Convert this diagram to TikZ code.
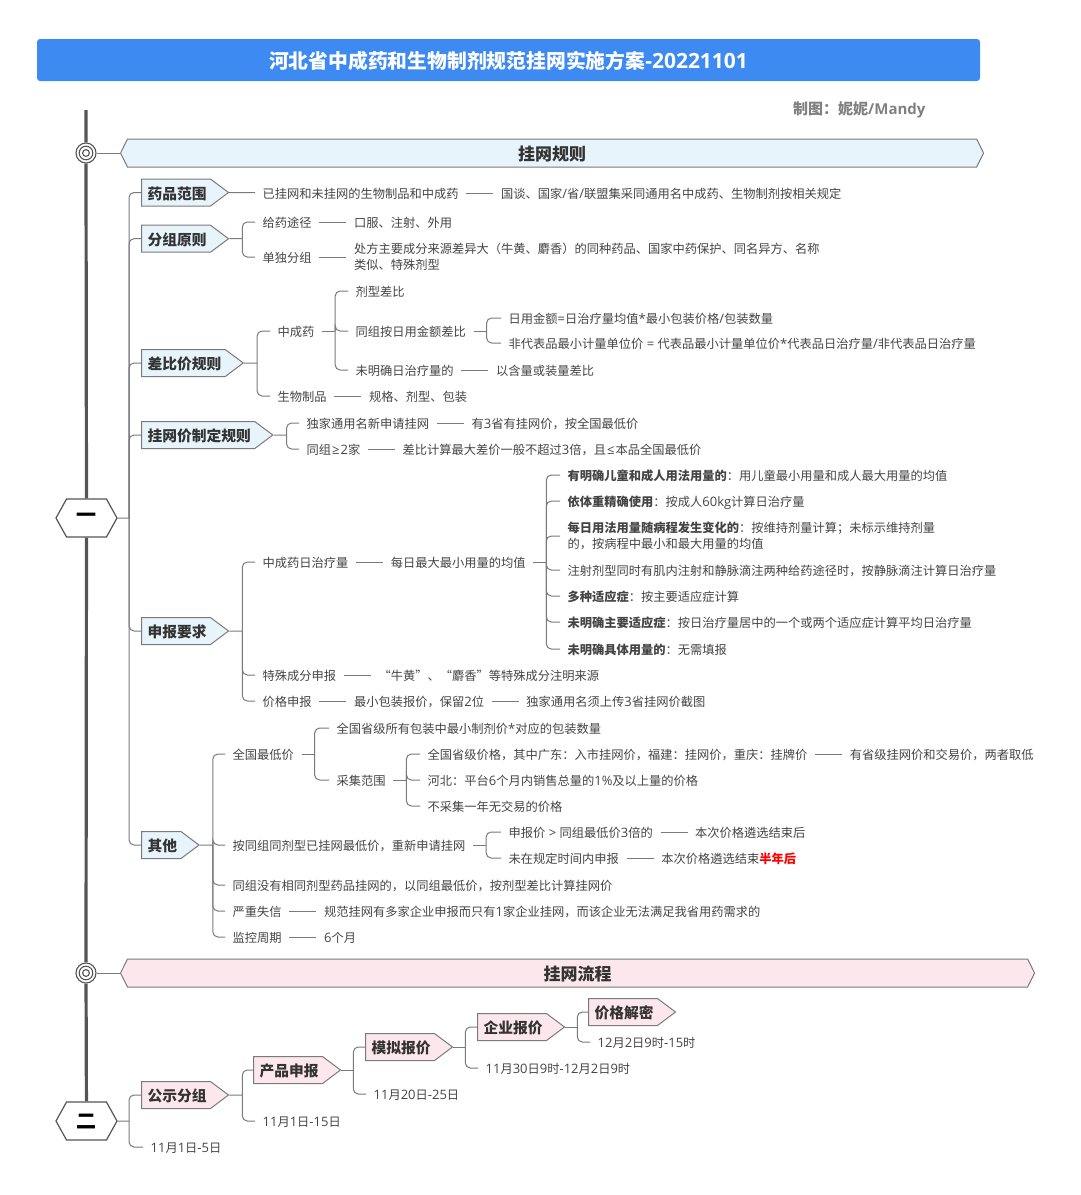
\documentclass[tikz,border=0pt]{standalone}
\usepackage{fontspec}
\setmainfont{Noto Sans CJK SC}
\newfontfamily\lat[Scale=1.06]{Open Sans}
\newfontfamily\latmaker{Open Sans}
\usetikzlibrary{shapes.symbols,positioning}
\definecolor{inkgray}{HTML}{444444}
\definecolor{linegray}{HTML}{7A7A7A}
\definecolor{spinegray}{HTML}{555555}
\definecolor{titleblue}{HTML}{3E8AF3}
\definecolor{paleblue}{HTML}{E8F4FB}
\definecolor{palepink}{HTML}{FCE8EC}

\begin{document}
\begin{tikzpicture}[
    x=1pt, y=-1pt,
    txt/.style={anchor=west, inner xsep=7.5pt, inner ysep=2pt, align=left, text=inkgray, text height=12.5pt, text depth=1.2pt, font=\fontsize{12.25}{16}\selectfont},
    twolines/.style={text height=, text depth=},
    tag/.style={signal, signal to=east, signal pointer angle=73.7, draw=linegray, line width=1pt, anchor=west, minimum height=27pt, inner xsep=3pt, inner ysep=0pt, text=black!80, text height=14.5pt, text depth=1.3pt, font=\fontsize{14.75}{16}\selectfont\bfseries, execute at begin node=\hspace*{3pt}, execute at end node=\hspace*{1pt}},
    tagblue/.style={tag, fill=paleblue},
    tagpink/.style={tag, fill=palepink},
    banner/.style={signal, signal to=west and east, signal pointer angle=127, draw=linegray, line width=1pt, anchor=west, minimum height=28pt, text=black!80, text height=16.5pt, text depth=1.6pt, font=\fontsize{17}{18}\selectfont\bfseries},
    hexa/.style={signal, signal to=west and east, signal pointer angle=122, draw=spinegray, line width=1.2pt, fill=white, minimum width=61pt, minimum height=38pt, inner sep=0pt, font=\fontsize{20}{20}\selectfont\bfseries},
    target/.style={circle, draw=spinegray, line width=1.1pt, minimum size=20pt, inner sep=0pt, path picture={\draw[spinegray, line width=1.1pt] (path picture bounding box.center) circle (6.8pt) circle (3.4pt);}},
    link/.style={draw=linegray, line width=1pt, rounded corners=5pt},
    spine/.style={draw=spinegray, line width=3.2pt}
]
    % header
    \node[fill=titleblue, rounded corners=3pt, minimum width=943pt, minimum height=42pt, text=white, text height=19pt, text depth=2pt, font=\fontsize{19.8}{22}\selectfont\bfseries] (title) at (508.5,60) {河北省中成药和生物制剂规范挂网实施方案{\lat -20221101}};
    \node[anchor=west, inner sep=0pt, text=black!50, font=\fontsize{15}{18}\selectfont\bfseries] (maker) at (793,110) {制图：妮妮{\latmaker /Mandy}};

    % spine
    \coordinate (spinetop) at (86,110);
    \node[target] (tgta) at (86,153) {};
    \node[target] (tgtb) at (86,973) {};
    \node[hexa] (hexone) at (86.5,518) {一};
    \node[hexa] (hextwo) at (86.5,1121) {二};
    \draw[spine] (spinetop) -- (tgta) -- (hexone) -- (tgtb) -- (hextwo);
    \node[banner, fill=paleblue, minimum width=863pt] (bannera) at (120,153) {挂网规则};
    \node[banner, fill=palepink, minimum width=914pt] (bannerb) at (120,973) {挂网流程};
    \draw[link] (tgta) -- (bannera.west);
    \draw[link] (tgtb) -- (bannerb.west);

    % part one
    \node[tagblue] (tagscope) at (141,192.5) {药品范围};
    \node[tagblue] (taggroup) at (141,238.7) {分组原则};
    \node[tagblue] (tagratio) at (141,363) {差比价规则};
    \node[tagblue] (tagprice) at (141,435) {挂网价制定规则};
    \node[tagblue] (tagreport) at (141,631) {申报要求};
    \node[tagblue] (tagother) at (141,845) {其他};
    \coordinate (trunkone) at (129,518);
    \draw[link] (hexone) -- (trunkone);
    \foreach \c in {tagscope,taggroup,tagratio,tagprice,tagreport,tagother}
        \draw[link] (trunkone) |- (\c.west);

    % scope
    \node[txt] (scopea) at (255,193) {已挂网和未挂网的生物制品和中成药};
    \node[txt, right=27pt of scopea] (scopeb) {国谈、国家{\lat /}省{\lat /}联盟集采同通用名中成药、生物制剂按相关规定};
    \draw[link] (tagscope) -- (scopea);
    \draw[link] (scopea) -- (scopeb);

    % group
    \node[txt] (route) at (255,222) {给药途径};
    \node[txt, right=27pt of route] (routeb) {口服、注射、外用};
    \node[txt] (single) at (255,257) {单独分组};
    \node[txt, twolines, right=27pt of single, yshift=0.5pt] (singleb) {处方主要成分来源差异大（牛黄、麝香）的同种药品、国家中药保护、同名异方、名称\\类似、特殊剂型};
    \coordinate[right=13pt of taggroup] (jgroup);
    \draw[link] (taggroup) -- (jgroup);
    \foreach \c in {route,single}
        \draw[link] (jgroup) |- (\c.west);
    \draw[link] (route) -- (routeb);
    \draw[link] (single) -- (single.east -| singleb.west);

    % ratio
    \node[txt] (zcy) at (270,331) {中成药};
    \node[txt] (bio) at (270,396) {生物制品};
    \node[txt, right=27pt of bio] (biob) {规格、剂型、包装};
    \coordinate[right=13pt of tagratio] (jratio);
    \draw[link] (tagratio) -- (jratio);
    \foreach \c in {zcy,bio}
        \draw[link] (jratio) |- (\c.west);
    \draw[link] (bio) -- (biob);
    \node[txt] (form) at (348,291) {剂型差比};
    \node[txt] (daily) at (348,331) {同组按日用金额差比};
    \node[txt] (nodose) at (348,370) {未明确日治疗量的};
    \node[txt, right=27pt of nodose] (nodoseb) {以含量或装量差比};
    \coordinate[right=13pt of zcy] (jzcy);
    \draw[link] (zcy) -- (jzcy);
    \foreach \c in {form,daily,nodose}
        \draw[link] (jzcy) |- (\c.west);
    \draw[link] (nodose) -- (nodoseb);
    \node[txt] (dailya) at (501,318) {日用金额{\lat =}日治疗量均值{\lat *}最小包装价格{\lat /}包装数量};
    \node[txt] (dailyb) at (501,343) {非代表品最小计量单位价{\lat\ =\ }代表品最小计量单位价{\lat *}代表品日治疗量{\lat /}非代表品日治疗量};
    \coordinate[right=13pt of daily] (jdaily);
    \draw[link] (daily) -- (jdaily);
    \foreach \c in {dailya,dailyb}
        \draw[link] (jdaily) |- (\c.west);

    % price
    \node[txt] (sole) at (299,423) {独家通用名新申请挂网};
    \node[txt, right=27pt of sole] (soleb) {有{\lat 3}省有挂网价，按全国最低价};
    \node[txt] (same) at (299,449) {同组\hspace{1pt}{\lat ≥}\hspace{1pt}{\lat 2}家};
    \node[txt, right=27pt of same] (sameb) {差比计算最大差价一般不超过{\lat 3}倍，且\hspace{1pt}{\lat ≤}\hspace{1pt}本品全国最低价};
    \coordinate[right=13pt of tagprice] (jprice);
    \draw[link] (tagprice) -- (jprice);
    \foreach \c in {sole,same}
        \draw[link] (jprice) |- (\c.west);
    \draw[link] (sole) -- (soleb);
    \draw[link] (same) -- (sameb);

    % report
    \node[txt] (dose) at (255,562) {中成药日治疗量};
    \node[txt, right=27pt of dose] (doseb) {每日最大最小用量的均值};
    \node[txt] (special) at (255,675) {特殊成分申报};
    \node[txt, right=27pt of special] (specialb) {“牛黄”、“麝香”等特殊成分注明来源};
    \node[txt] (quote) at (255,701) {价格申报};
    \node[txt, right=27pt of quote] (quoteb) {最小包装报价，保留{\lat 2}位};
    \node[txt, right=27pt of quoteb] (quotec) {独家通用名须上传{\lat 3}省挂网价截图};
    \coordinate[right=13pt of tagreport] (jreport);
    \draw[link] (tagreport) -- (jreport);
    \foreach \c in {dose,special,quote}
        \draw[link] (jreport) |- (\c.west);
    \draw[link] (dose) -- (doseb);
    \draw[link] (special) -- (specialb);
    \draw[link] (quote) -- (quoteb);
    \draw[link] (quoteb) -- (quotec);
    \node[txt] (dosea) at (560,475) {\textbf{有明确儿童和成人用法用量的}：用儿童最小用量和成人最大用量的均值};
    \node[txt] (doseweight) at (560,501) {\textbf{依体重精确使用}：按成人{\lat 60kg}计算日治疗量};
    \node[txt, twolines] (dosechange) at (560,536) {\textbf{每日用法用量随病程发生变化的}：按维持剂量计算；未标示维持剂量\\的，按病程中最小和最大用量的均值};
    \node[txt] (doseinj) at (560,570) {注射剂型同时有肌内注射和静脉滴注两种给药途径时，按静脉滴注计算日治疗量};
    \node[txt] (dosemulti) at (560,596) {\textbf{多种适应症}：按主要适应症计算};
    \node[txt] (dosemain) at (560,622) {\textbf{未明确主要适应症}：按日治疗量居中的一个或两个适应症计算平均日治疗量};
    \node[txt] (dosenone) at (560,649) {\textbf{未明确具体用量的}：无需填报};
    \coordinate[right=13pt of doseb] (jdose);
    \draw[link] (doseb) -- (jdose);
    \foreach \c in {dosea,doseweight,dosechange,doseinj,dosemulti,dosemain,dosenone}
        \draw[link] (jdose) |- (\c.west);

    % other
    \node[txt] (lowest) at (225,754) {全国最低价};
    \node[txt] (reapply) at (225,845) {按同组同剂型已挂网最低价，重新申请挂网};
    \node[txt] (nosame) at (225,885) {同组没有相同剂型药品挂网的，以同组最低价，按剂型差比计算挂网价};
    \node[txt] (breach) at (225,911) {严重失信};
    \node[txt, right=27pt of breach] (breachb) {规范挂网有多家企业申报而只有{\lat 1}家企业挂网，而该企业无法满足我省用药需求的};
    \node[txt] (monitor) at (225,937) {监控周期};
    \node[txt, right=27pt of monitor] (monitorb) {{\lat 6}个月};
    \coordinate[right=13pt of tagother] (jother);
    \draw[link] (tagother) -- (jother);
    \foreach \c in {lowest,reapply,nosame,breach,monitor}
        \draw[link] (jother) |- (\c.west);
    \draw[link] (breach) -- (breachb);
    \draw[link] (monitor) -- (monitorb);
    \node[txt] (lowa) at (329,728) {全国省级所有包装中最小制剂价{\lat *}对应的包装数量};
    \node[txt] (lowb) at (329,780) {采集范围};
    \coordinate[right=13pt of lowest] (jlow);
    \draw[link] (lowest) -- (jlow);
    \foreach \c in {lowa,lowb}
        \draw[link] (jlow) |- (\c.west);
    \node[txt] (rangea) at (420,754) {全国省级价格，其中广东：入市挂网价，福建：挂网价，重庆：挂牌价};
    \node[txt, right=27pt of rangea] (rangeb) {有省级挂网价和交易价，两者取低};
    \node[txt] (rangec) at (420,780) {河北：平台{\lat 6}个月内销售总量的{\lat 1\%}及以上量的价格};
    \node[txt] (ranged) at (420,806) {不采集一年无交易的价格};
    \coordinate[right=13pt of lowb] (jrange);
    \draw[link] (lowb) -- (jrange);
    \foreach \c in {rangea,rangec,ranged}
        \draw[link] (jrange) |- (\c.west);
    \draw[link] (rangea) -- (rangeb);
    \node[txt] (overq) at (501,832) {申报价{\lat\ >\ }同组最低价{\lat 3}倍的};
    \node[txt, right=27pt of overq] (overqb) {本次价格遴选结束后};
    \node[txt] (late) at (501,858) {未在规定时间内申报};
    \node[txt, right=27pt of late] (lateb) {本次价格遴选结束\textcolor{red}{\textbf{半年后}}};
    \coordinate[right=13pt of reapply] (jreapply);
    \draw[link] (reapply) -- (jreapply);
    \foreach \c in {overq,late}
        \draw[link] (jreapply) |- (\c.west);
    \draw[link] (overq) -- (overqb);
    \draw[link] (late) -- (lateb);

    % part two
    \node[tagpink] (tagpublic) at (141,1095) {公示分组};
    \node[txt] (datepublic) at (143,1147) {{\lat 11}月{\lat 1}日{\lat -5}日};
    \coordinate (trunktwo) at (129,1121);
    \draw[link] (hextwo) -- (trunktwo);
    \foreach \c in {tagpublic,datepublic}
        \draw[link] (trunktwo) |- (\c.west);
    \node[tagpink] (tagproduct) at (253,1070) {产品申报};
    \node[txt] (dateproduct) at (255,1121) {{\lat 11}月{\lat 1}日{\lat -15}日};
    \coordinate[right=13pt of tagpublic] (jpublic);
    \draw[link] (tagpublic) -- (jpublic);
    \foreach \c in {tagproduct,dateproduct}
        \draw[link] (jpublic) |- (\c.west);
    \node[tagpink] (tagmock) at (365,1047) {模拟报价};
    \node[txt] (datemock) at (366,1094) {{\lat 11}月{\lat 20}日{\lat -25}日};
    \coordinate[right=12pt of tagproduct] (jproduct);
    \draw[link] (tagproduct) -- (jproduct);
    \foreach \c in {tagmock,datemock}
        \draw[link] (jproduct) |- (\c.west);
    \node[tagpink] (tagfirm) at (477,1027) {企业报价};
    \node[txt] (datefirm) at (478,1068) {{\lat 11}月{\lat 30}日{\lat 9}时{\lat -12}月{\lat 2}日{\lat 9}时};
    \coordinate[right=12pt of tagmock] (jmock);
    \draw[link] (tagmock) -- (jmock);
    \foreach \c in {tagfirm,datefirm}
        \draw[link] (jmock) |- (\c.west);
    \node[tagpink] (tagopen) at (588,1012) {价格解密};
    \node[txt] (dateopen) at (590,1042) {{\lat 12}月{\lat 2}日{\lat 9}时{\lat -15}时};
    \coordinate[right=12pt of tagfirm] (jfirm);
    \draw[link] (tagfirm) -- (jfirm);
    \foreach \c in {tagopen,dateopen}
        \draw[link] (jfirm) |- (\c.west);

    \useasboundingbox (0,0) rectangle (1080,1195);
\end{tikzpicture}
\end{document}
